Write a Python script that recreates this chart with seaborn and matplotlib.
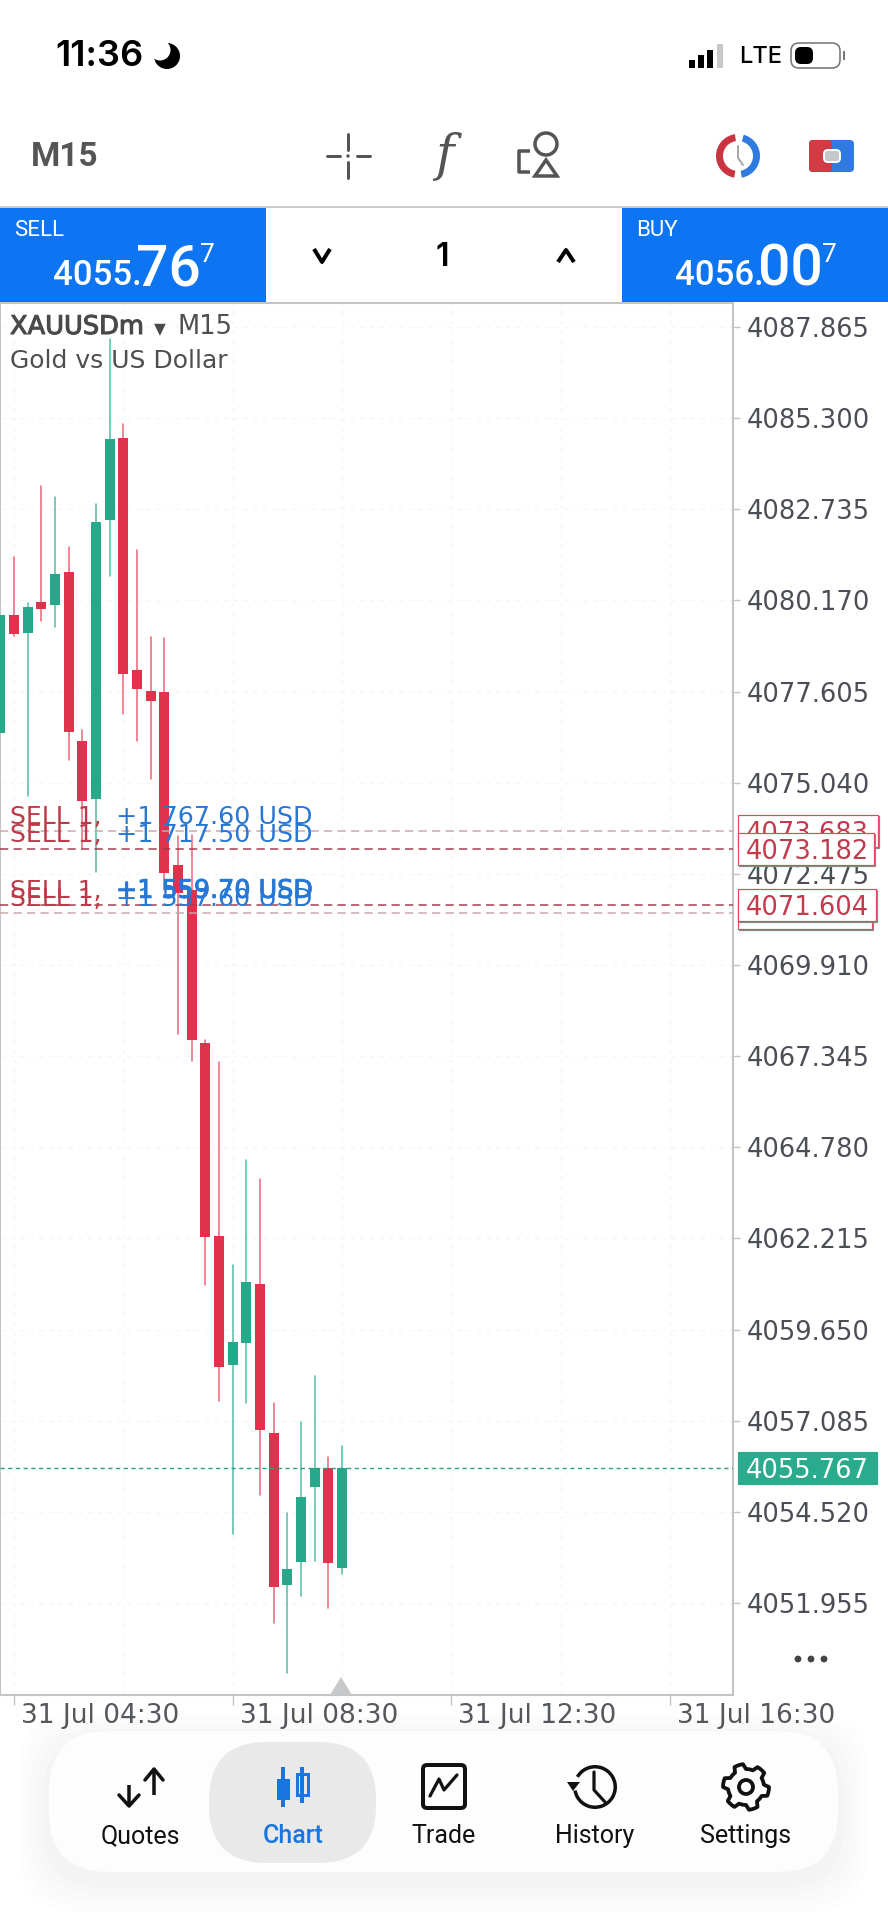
# MT5 style gold chart, phone screenshot

import numpy as np
import pandas as pd
import matplotlib
matplotlib.use("Agg")
import matplotlib.pyplot as plt
import matplotlib.patheffects as pe
from matplotlib.patches import Rectangle, FancyBboxPatch, Circle, Wedge, Polygon
import seaborn as sns

sns.set_theme(style="white")
plt.rcParams['font.family'] = ['DejaVu Sans']

# candles, oldest first
bars = list(range(26))
opens = [4076.44, 4079.76, 4079.25, 4080.13, 4080.05, 4080.98, 4076.21, 4074.58, 4082.42, 4084.74, 4078.20, 4077.61, 4077.59,
         4072.72, 4072.02, 4067.72, 4062.29, 4058.64, 4059.26, 4060.94, 4056.75, 4052.45, 4053.10, 4055.21, 4055.74, 4052.93]
closes = [4079.76, 4079.23, 4079.98, 4079.93, 4080.92, 4076.48, 4074.52, 4082.39, 4084.70, 4078.11, 4077.69, 4077.34, 4072.51,
          4071.94, 4067.79, 4062.26, 4058.60, 4059.30, 4060.99, 4056.83, 4052.40, 4052.91, 4054.93, 4055.74, 4053.07, 4055.74]
highs = [4079.76, 4081.39, 4080.10, 4083.40, 4083.07, 4081.66, 4076.51, 4082.88, 4087.52, 4085.14, 4081.59, 4079.15, 4079.10,
         4073.54, 4073.57, 4067.80, 4067.18, 4061.47, 4064.42, 4063.89, 4057.59, 4054.48, 4057.06, 4058.34, 4056.06, 4056.37]
lows = [4076.44, 4079.18, 4074.67, 4079.58, 4079.41, 4075.68, 4073.20, 4072.54, 4080.87, 4076.98, 4076.21, 4075.13, 4072.02,
        4067.98, 4067.21, 4060.90, 4057.64, 4053.90, 4057.59, 4054.98, 4051.38, 4049.98, 4052.14, 4053.13, 4051.82, 4052.78]

price_ticks = [4087.865, 4085.300, 4082.735, 4080.170, 4077.605, 4075.040, 4072.475, 4069.910,
               4067.345, 4064.780, 4062.215, 4059.650, 4057.085, 4054.520, 4051.955]
time_ticks = [1, 17, 33, 49]
time_labels = ['31 Jul 04:30', '31 Jul 08:30', '31 Jul 12:30', '31 Jul 16:30']
grid_bars = [9, 25, 41]

last_price = 4055.767
order_prices = [4073.683, 4071.383, 4073.182, 4071.604]
order_profits = ['+1 767.60 USD', '+1 537.60 USD', '+1 717.50 USD', '+1 559.70 USD']

RED = '#e0324c'
GREEN = '#27a88b'
BLUE = '#0d74f2'
PX = 1 / 100 * 72  # one pixel in points

df = pd.DataFrame({'bar': bars, 'open': opens, 'close': closes})
df['bottom'] = df[['open', 'close']].min(axis=1)
df['height'] = (df['open'] - df['close']).abs()
df['dir'] = np.where(df['close'] >= df['open'], 'up', 'down')

wicks = pd.DataFrame({'bar': bars * 2, 'price': highs + lows, 'dir': list(df['dir']) * 2})

fig = plt.figure(figsize=(8.88, 19.2), dpi=100, facecolor='white')
ax = fig.add_axes([0, 1 - 1695 / 1920, 733 / 888, (1695 - 303) / 1920])

# wicks then bodies
sns.lineplot(data=wicks, x='bar', y='price', units='bar', estimator=None, hue='dir',
             palette={'up': '#58c0a6', 'down': '#ee6b7e'}, linewidth=1.6 * PX, legend=False, sort=False,
             ax=ax, zorder=2)
for d, col in [('up', GREEN), ('down', RED)]:
    sub = df[df['dir'] == d]
    sns.barplot(data=sub, x='bar', y='height', bottom=sub['bottom'].values, native_scale=True,
                color=col, saturation=1, width=0.72, errorbar=None, linewidth=0, ax=ax, zorder=3)

ax.set_xlim(-0.022, 53.6)
ax.set_ylim(4049.365, 4088.54)
ax.set_xlabel('')
ax.set_ylabel('')

ax.yaxis.tick_right()
ax.set_yticks(price_ticks)
ax.set_yticklabels(['%.3f' % p for p in price_ticks])
ax.set_xticks(time_ticks)
ax.set_xticklabels(time_labels, ha='left')
ax.set_xticks(grid_bars, minor=True)
ax.tick_params(axis='y', right=True, length=5, width=1, color='#c4c4c4', pad=5, labelsize=18.5, labelcolor='#4b4f55')
ax.tick_params(axis='x', bottom=True, length=7, width=1, color='#c4c4c4', pad=-1, labelsize=19, labelcolor='#55585c')
ax.tick_params(axis='x', which='minor', bottom=False)
for lab in ax.get_xticklabels():
    lab.set_transform(lab.get_transform() + matplotlib.transforms.ScaledTranslation(7 / 100, 0, fig.dpi_scale_trans))
ax.set_axisbelow(True)
ax.grid(True, which='both', color='#f6f6f6', linewidth=1, linestyle=(0, (3, 4)))
for s in ax.spines.values():
    s.set_color('#c2c4c6')
    s.set_linewidth(1.5)

ytr = ax.get_yaxis_transform()
PRICE_PX = (4088.54 - 4049.365) / (1695 - 303)  # price per screen pixel


def price_tag(p, width, fc, ec, color, shadow=None):
    # tag box sits just right of the plot, centred on its price
    h = 32 * PRICE_PX
    if shadow:
        ax.add_patch(Rectangle(((738 + 1) / 733, p - h / 2 - PRICE_PX), width / 733, h, transform=ytr, fc='none', ec=shadow,
                               lw=1.2 * PX, clip_on=False, zorder=7))
    ax.add_patch(Rectangle((738 / 733, p - h / 2), width / 733, h, transform=ytr, fc=fc, ec=ec,
                           lw=1.2 * PX, clip_on=False, zorder=7))
    ax.text(746 / 733, p, '%.3f' % p, transform=ytr, va='center_baseline', ha='left', color=color, size=18.5,
            clip_on=False, zorder=7)


# current price
ax.axhline(last_price, color='#2a9d82', linewidth=1.4 * PX, linestyle=(0, (3, 2.5)), zorder=4)
price_tag(last_price, 139, '#2bab8e', '#2bab8e', 'white')

# open orders, drawn back to front
line_cols = ['#c6a7aa', '#c6a7aa', '#a33a4a', '#a33a4a']
tag_widths = [140, 134, 136, 138]
for p, prof, lc, w in zip(order_prices, order_profits, line_cols, tag_widths):
    ax.axhline(p, color=lc, linewidth=1.5 * PX, linestyle=(0, (5.5, 3.5)), zorder=4)
    ax.annotate('SELL 1,', xy=(10 / 733, p), xycoords=ytr, xytext=(0, 2 * PX), textcoords='offset points',
                color='#bd3a4b', size=18, ha='left', va='bottom', zorder=6)
    t = ax.annotate(prof, xy=(116 / 733, p), xycoords=ytr, xytext=(0, 2 * PX), textcoords='offset points',
                    color='#2677d6', size=18.3, ha='left', va='bottom', zorder=6)
    if prof.startswith('+1 559'):
        t.set_path_effects([pe.withStroke(linewidth=0.7, foreground='#2677d6')])
    price_tag(p, w, 'white', '#dc4a5c', '#c23a4c', shadow='#8a8a8a')

# everything around the chart, in screen pixels
ui = fig.add_axes([0, 0, 1, 1], facecolor='none', zorder=5)
ui.set_xlim(0, 888)
ui.set_ylim(1920, 0)
ui.axis('off')


def txt(x, y, s, size, color='black', ha='left', va='center', family='Roboto', **kw):
    return ui.text(x, y, s, size=size, color=color, ha=ha, va=va, family=family, **kw)


def seg(xs, ys, color='#555555', lw=2.5, **kw):
    ui.plot(xs, ys, color=color, lw=lw * PX, solid_capstyle=kw.pop('cap', 'round'), **kw)


def rbox(x0, y0, x1, y1, r, **kw):
    ui.add_patch(FancyBboxPatch((x0 + r, y0 + r), x1 - x0 - 2 * r, y1 - y0 - 2 * r,
                                boxstyle='round,pad=%f,rounding_size=%f' % (r, r), **kw))


# status bar
txt(55, 56, '11:36', 26, family='Inter', weight='semibold')
ui.add_patch(Circle((167, 56), 13, fc='black', ec='none'))
ui.add_patch(Circle((160, 50), 10.5, fc='white', ec='none'))
for x, h, c in [(689, 8, 'black'), (698, 13, 'black'), (707, 18, 'black'), (717, 24, '#c8c8c8')]:
    ui.add_patch(Rectangle((x, 68 - h), 6, h, fc=c, ec='none'))
txt(739, 57, 'LTE', 17, family='Inter', weight='medium')
rbox(791, 43, 840, 68, 8, fc='white', ec='#777777', lw=1.6 * PX)
rbox(795, 47, 813, 64, 6, fc='black', ec='none')
ui.add_patch(Rectangle((843, 51), 2, 9, fc='#777777', ec='none'))

# toolbar
txt(31, 157, 'M15', 24, color='#555555', weight='bold')
seg([348, 348], [134, 150], lw=3)
seg([348, 348], [162, 178], lw=3)
seg([327, 340], [156, 156], lw=3)
seg([357, 370], [156, 156], lw=3)
ui.add_patch(Circle((348, 156), 1.7, fc='#555555', ec='none'))
txt(444, 156, 'f', 36, color='#555555', ha='center', family='DejaVu Serif', style='italic')
ui.add_patch(Circle((546, 144), 11, fc='none', ec='#555555', lw=3.5 * PX))
ui.add_patch(Polygon([(546, 160), (557, 176), (535, 176)], fc='none', ec='#555555', lw=3.5 * PX))
seg([530, 519, 519, 530], [151, 151, 172, 172], lw=3.5, cap='butt')
ui.add_patch(Wedge((738, 156), 22, 100, 262, width=7, fc='#c9343f', ec='none'))
ui.add_patch(Wedge((738, 156), 22, -75, 80, width=7, fc='#2f7be0', ec='none'))
seg([738, 738, 743], [146, 158, 165], color='#a8a8a8', lw=2)
rbox(809, 140, 854, 172, 4, fc='#2f7be0', ec='none')
rbox(809, 140, 832, 172, 4, fc='#d23a44', ec='none')
rbox(824, 150, 840, 162, 4, fc='#c4c8cc', ec='white', lw=2 * PX)

# sell / buy strip
ui.add_patch(Rectangle((0, 206), 888, 2, fc='#c9cbcd', ec='none'))
ui.add_patch(Rectangle((0, 208), 266, 94, fc=BLUE, ec='none'))
ui.add_patch(Rectangle((622, 208), 266, 94, fc=BLUE, ec='none'))
for x0, head, big, frac in [(0, 'SELL', '4055.', '76'), (622, 'BUY', '4056.', '00')]:
    txt(x0 + 14, 230, head, 16, color='white')
    txt(x0 + 53, 285, big, 25, color='white', va='baseline', weight='medium')
    txt(x0 + 136, 285, frac, 41, color='white', va='baseline', weight='medium')
    txt(x0 + 200, 262, '7', 19, color='white', va='baseline')
seg([314, 322, 330], [249, 262, 249], color='black', lw=4, cap='butt')
seg([558, 566, 574], [262, 250, 262], color='black', lw=4, cap='butt')
txt(442, 257, '1', 23, ha='center', family='Inter', weight='semibold')

# symbol caption
caption = txt(10, 327, 'XAUUSDm', 18.5, color='#4a4a4a', family='DejaVu Sans')
caption.set_path_effects([pe.withStroke(linewidth=0.8, foreground='#4a4a4a')])
txt(160, 328, '▾', 17, color='#4a4a4a', ha='center', family='DejaVu Sans')
txt(177, 327, 'M15', 18.5, color='#4f4f4f', family='DejaVu Sans')
txt(10, 361, 'Gold vs US Dollar', 18, color='#4f4f4f', family='DejaVu Sans')

# current bar marker and menu dots
ui.add_patch(Polygon([(341, 1677), (352, 1695), (330, 1695)], fc='#c6c8ca', ec='none'))
for x in [798, 811, 824]:
    ui.add_patch(Circle((x, 1659), 3.4, fc='#444444', ec='none'))

# bottom navigation
for grow, a in [(30, 0.006), (24, 0.007), (18, 0.008), (12, 0.009), (6, 0.01)]:
    rbox(49 - grow, 1731 - grow + 10, 838 + grow, 1872 + grow + 10, 60, fc='black', ec='none', alpha=a)
rbox(49, 1731, 838, 1872, 60, fc='#fdfdfd', ec='none')
rbox(209, 1742, 376, 1863, 58, fc='#e9e9e9', ec='none')
nav_x = [140, 293, 444, 595, 746]
nav_labels = ['Quotes', 'Chart', 'Trade', 'History', 'Settings']
for x, s in zip(nav_x, nav_labels):
    txt(x, 1836, s, 18, color='#1976e0' if s == 'Chart' else '#111111', ha='center', family='Roboto',
        weight='medium' if s == 'Chart' else 'normal')

# quotes arrows
seg([129, 129], [1785, 1806], color='#111111', lw=3.5, cap='butt')
seg([119, 129, 139], [1795, 1806, 1795], color='#111111', lw=3.5)
seg([154, 154], [1769, 1795], color='#111111', lw=3.5, cap='butt')
seg([145, 154, 163], [1780, 1769, 1780], color='#111111', lw=3.5)
# chart candles
seg([283, 283], [1767, 1807], color='#1976e0', lw=4, cap='butt')
ui.add_patch(Rectangle((277, 1779), 13, 21, fc='#1976e0', ec='none'))
seg([302, 302], [1767, 1803], color='#1976e0', lw=4, cap='butt')
ui.add_patch(Rectangle((297, 1774), 11, 21, fc='#e9e9e9', ec='#1976e0', lw=3 * PX))
# trade box
rbox(423, 1765, 465, 1808, 4, fc='none', ec='#111111', lw=4 * PX)
seg([430, 439, 444, 457], [1796, 1779, 1790, 1775], color='#111111', lw=3.2)
# history clock
ui.add_patch(Wedge((595, 1787), 22, -150, 170, width=3.5, fc='#111111', ec='none'))
ui.add_patch(Polygon([(567, 1782), (580, 1782), (573, 1791)], fc='#111111', ec='none'))
seg([594, 594, 605], [1772, 1790, 1802], color='#111111', lw=3.2)
# settings gear
ang = np.linspace(0, 2 * np.pi, 49)[:-1] + np.pi / 24
rad = np.array(([23, 23, 23, 23, 18, 18, 18, 18]) * 6)
ui.add_patch(Polygon(np.c_[746 + rad * np.sin(ang), 1787 + rad * np.cos(ang)], closed=True, fc='none', ec='#111111',
                     lw=3.8 * PX, joinstyle='round'))
ui.add_patch(Circle((746, 1787), 7, fc='none', ec='#111111', lw=3.8 * PX))

fig.savefig('out.png', dpi=100, facecolor='white')
